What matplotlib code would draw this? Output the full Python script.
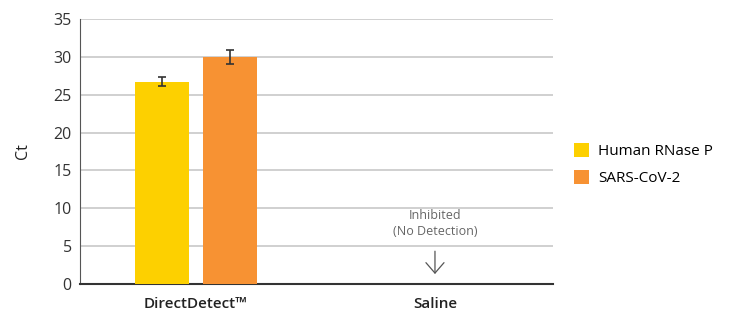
import matplotlib
matplotlib.use("Agg")
import matplotlib.pyplot as plt
import numpy as np

categories = ["DirectDetect\u2122", "Saline"]
series_names = ["Human RNase P", "SARS-CoV-2"]
rnase_p = [26.7, np.nan]
sars_cov2 = [30.0, np.nan]
rnase_p_err = [0.6, np.nan]
sars_cov2_err = [0.95, np.nan]
yticks = [0, 5, 10, 15, 20, 25, 30, 35]

colors = ["#FDD000", "#F79233"]

plt.rcParams["font.family"] = ["Open Sans", "DejaVu Sans"]

fig = plt.figure(figsize=(7.3, 3.14), dpi=100)
ax = fig.add_axes([0.1096, 0.0955, 0.648, 0.844])

x = np.arange(len(categories))
w = 0.226
off = 0.142
for vals, errs, c, name, sgn in [(rnase_p, rnase_p_err, colors[0], series_names[0], -1),
                                 (sars_cov2, sars_cov2_err, colors[1], series_names[1], 1)]:
    ax.bar(x + sgn * off, vals, width=w, color=c, label=name, zorder=3)
    ax.errorbar(x + sgn * off, vals, yerr=errs, fmt="none", ecolor="#333333",
                elinewidth=1.2, capsize=3, capthick=1.2, zorder=4)

ax.set_xlim(-0.485, 1.494)
ax.set_ylim(0, 35)
ax.set_yticks(yticks)
ax.yaxis.grid(True, color="#c8c8c8", linewidth=1.2, zorder=0)
ax.set_axisbelow(True)
for s in ["top", "right"]:
    ax.spines[s].set_visible(False)
ax.spines["left"].set_color("#555555")
ax.spines["bottom"].set_color("#333333")
ax.spines["bottom"].set_linewidth(1.5)
ax.tick_params(axis="y", length=0, labelsize=11.5, labelcolor="#333333", pad=6)
ax.tick_params(axis="x", length=0, pad=9)
ax.set_xticks(x)
ax.set_xticklabels(categories, fontsize=11, fontweight="semibold", color="#222222")
ax.set_ylabel("Ct", fontsize=11.5, color="#222222", labelpad=16)

ax.text(1, 8.0, "Inhibited\n(No Detection)", ha="center", va="center",
        fontsize=9, color="#666666", linespacing=1.25)
ax.annotate("", xy=(1, 0.95), xytext=(1, 4.7),
            arrowprops=dict(arrowstyle="->,head_length=0.75,head_width=0.65",
                            color="#555555", lw=0.9))

ax.legend(loc="center left", bbox_to_anchor=(1.015, 0.45), frameon=False,
          fontsize=11, handlelength=1.0, handleheight=1.0, labelspacing=0.7,
          handletextpad=0.6)

fig.savefig("out.png", dpi=100)
